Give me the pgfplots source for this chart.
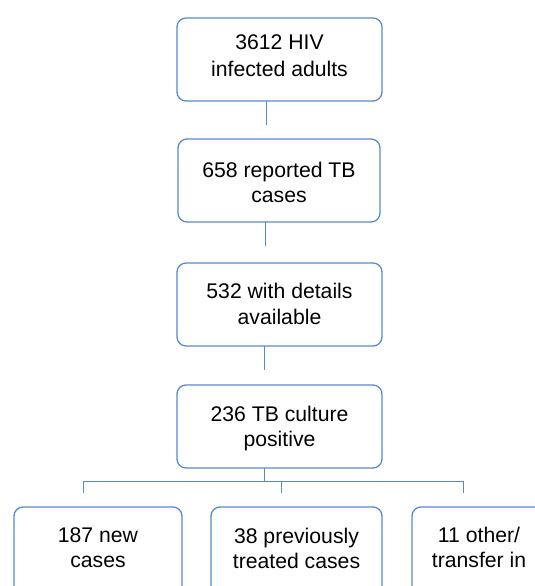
\documentclass[border=0pt]{standalone}
\usepackage{pgfplots}
\pgfplotsset{compat=1.18}
\usepackage{fontspec}
\setmainfont{Liberation Sans}
\definecolor{boxblue}{RGB}{88,138,204}
\definecolor{lineblue}{RGB}{92,136,196}
\begin{document}
\begin{tikzpicture}[
  bx/.style={draw=boxblue, line width=1.3pt, rounded corners=9pt, mark=none},
  cn/.style={draw=lineblue, line width=1pt, mark=none},
  tx/.style={anchor=base, inner sep=0pt, font=\fontsize{21.2}{26}\selectfont}]
\begin{axis}[scale only axis, width=535pt, height=586pt,
  xmin=0, xmax=535, ymin=0, ymax=586, y dir=reverse, hide axis, clip=true]
\path (axis cs:0,0) rectangle (axis cs:535,586);
% boxes
\addplot[bx] coordinates {(279,18)(382,18)(382,101)(177,101)(177,18)(279,18)};
\addplot[bx] coordinates {(279,139)(380,139)(380,222)(178,222)(178,139)(279,139)};
\addplot[bx] coordinates {(279,263)(382,263)(382,346)(177,346)(177,263)(279,263)};
\addplot[bx] coordinates {(279,385)(382,385)(382,468)(177,468)(177,385)(279,385)};
\addplot[bx] coordinates {(98,507)(182,507)(182,600)(14,600)(14,507)(98,507)};
\addplot[bx] coordinates {(296,507)(382,507)(382,600)(211,600)(211,507)(296,507)};
\addplot[bx] coordinates {(479,507)(546,507)(546,600)(412,600)(412,507)(479,507)};
% connectors
\addplot[cn] coordinates {(266,101)(266,125)};
\addplot[cn] coordinates {(265,222)(265,246)};
\addplot[cn] coordinates {(264,346)(264,370)};
\addplot[cn] coordinates {(264,468)(264,481)};
\addplot[cn] coordinates {(83,493)(83,481)(463,481)(463,493)};
\addplot[cn] coordinates {(281,481)(281,493)};
% texts
\node[tx] at (axis cs:279.5,49.5) {3612 HIV};
\node[tx] at (axis cs:279.5,76.5) {infected adults};
\node[tx] at (axis cs:279,177) {658 reported TB};
\node[tx] at (axis cs:279,202) {cases};
\node[tx] at (axis cs:279.5,298) {532 with details};
\node[tx] at (axis cs:279.5,324) {available};
\node[tx] at (axis cs:279.5,421) {236 TB culture};
\node[tx] at (axis cs:279.5,446) {positive};
\node[tx] at (axis cs:98,542) {187 new};
\node[tx] at (axis cs:98,567) {cases};
\node[tx] at (axis cs:296.5,543) {38 previously};
\node[tx] at (axis cs:296.5,568) {treated cases};
\node[tx] at (axis cs:479,542) {11 other/};
\node[tx] at (axis cs:479,567) {transfer in};
\end{axis}
\end{tikzpicture}
\end{document}
